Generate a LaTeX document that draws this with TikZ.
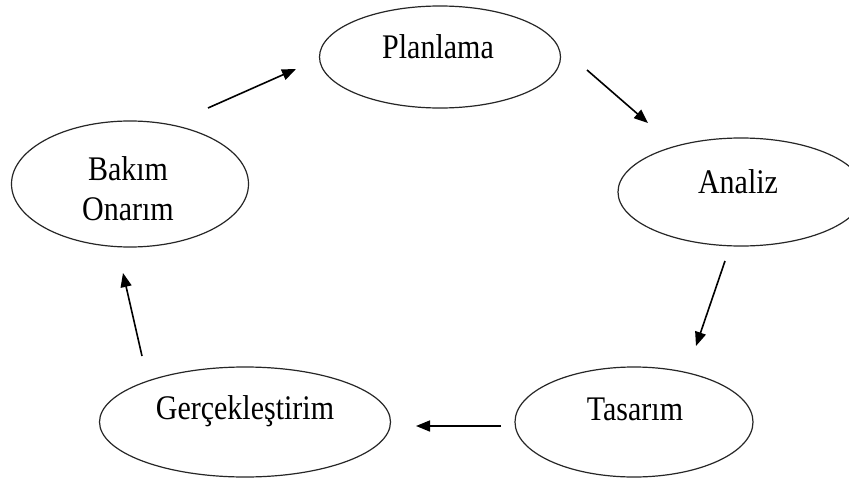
\documentclass[tikz,border=0pt]{standalone}
\usepackage{fontspec}
\setmainfont{Liberation Serif}
\usetikzlibrary{shapes.geometric,arrows.meta}
\begin{document}
\begin{tikzpicture}[x=1pt,y=1pt,
  oval/.style={draw=black!85,line width=1.2pt,ellipse,inner sep=0pt},
  lbl/.style={anchor=base,inner sep=0pt,transform shape,yscale=1.15,font=\fontsize{30}{34}\selectfont},
  flow/.style={draw=black,line width=1.6pt,-{Triangle[length=14pt,width=11pt]}}]
\useasboundingbox (0,0) rectangle (849,-479);
\clip (0,0) rectangle (849,-479);
\fill[white] (0,0) rectangle (849,-479);
% ellipses
\node[oval,minimum width=241,minimum height=102] (plan) at (440,-57) {};
\node[oval,minimum width=246,minimum height=108] (anal) at (741,-192) {};
\node[oval,minimum width=238,minimum height=110] (tas) at (634,-422) {};
\node[oval,minimum width=291,minimum height=110] (ger) at (245,-422) {};
\node[oval,minimum width=237,minimum height=126] (bak) at (130,-184) {};
% labels
\node[lbl] (planT) at (438,-58) {Planlama};
\node[lbl] (analT) at (738,-193) {Analiz};
\node[lbl] (tasT) at (635,-420) {Tasarım};
\node[lbl] (gerT) at (245,-419) {Gerçekleştirim};
\node[lbl] (bakT1) at (128,-180) {Bakım};
\node[lbl] (bakT2) at (128,-220) {Onarım};
% arrow ends
\coordinate (a1s) at (208,-108); \coordinate (a1e) at (296,-69);
\coordinate (a2s) at (587,-70);  \coordinate (a2e) at (648,-123);
\coordinate (a3s) at (725,-261); \coordinate (a3e) at (696,-346);
\coordinate (a4s) at (501,-426); \coordinate (a4e) at (416,-426);
\coordinate (a5s) at (142,-356); \coordinate (a5e) at (123,-273);
\draw[flow] (a1s) -- (a1e);
\draw[flow] (a2s) -- (a2e);
\draw[flow] (a3s) -- (a3e);
\draw[flow] (a4s) -- (a4e);
\draw[flow] (a5s) -- (a5e);
\end{tikzpicture}
\end{document}
